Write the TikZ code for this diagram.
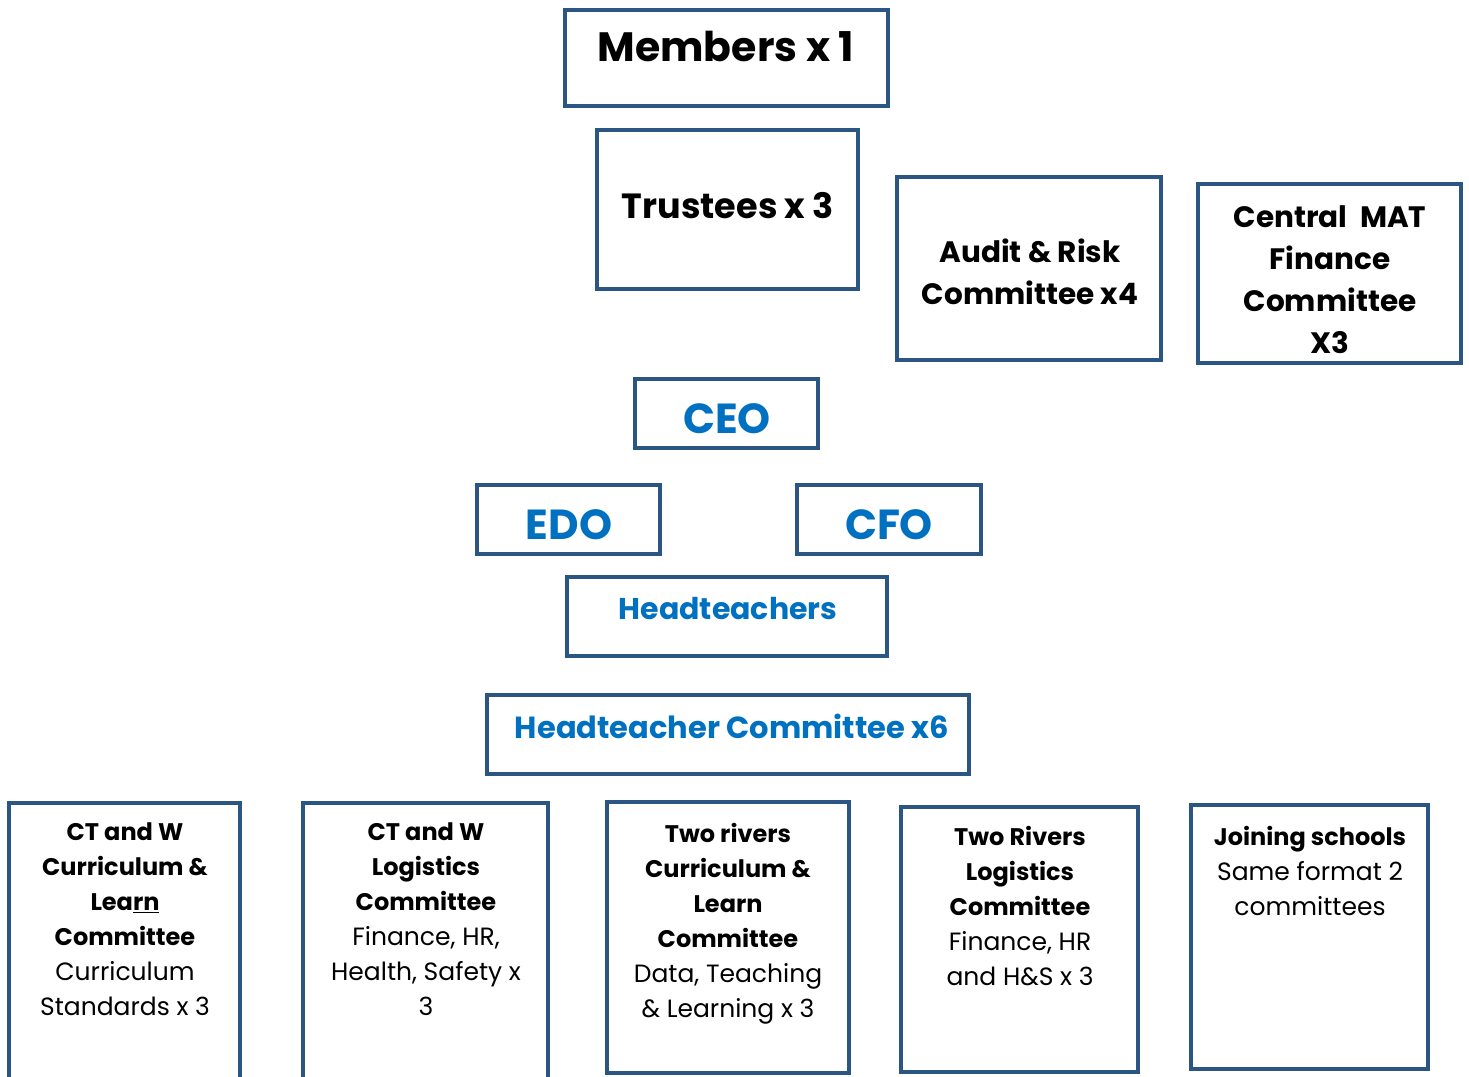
\documentclass[tikz,border=0pt]{standalone}
\usepackage{fontspec}
\setmainfont{Poppins}
\definecolor{frame}{HTML}{2B5583}
\definecolor{tblue}{HTML}{0070C0}
\begin{document}
\begin{tikzpicture}[x=1pt,y=-1pt,
  box/.style={draw=frame,line width=3.6pt,inner sep=0pt},
  txt/.style={anchor=north,align=center,inner sep=0pt},
  big/.style={font=\fontsize{42}{50}\selectfont\bfseries},
  mid/.style={font=\fontsize{29.5}{42}\selectfont\bfseries},
  small/.style={font=\fontsize{24}{35}\selectfont},
  reg/.style={font=\fontsize{25}{35}\selectfont},
  blue/.style={text=tblue}]
\useasboundingbox (0,0) rectangle (1469,1076);
\clip (0,0) rectangle (1469,1076);
\fill[white] (0,0) rectangle (1469,1076);
% boxes (line centres)
\node[box,minimum width=323,minimum height=96] (members) at (726.5,58) {};
\node[box,minimum width=261,minimum height=159] (trustees) at (727.5,209.5) {};
\node[box,minimum width=264,minimum height=183] (audit) at (1029,268.5) {};
\node[box,minimum width=263,minimum height=179] (central) at (1329.5,273.5) {};
\node[box,minimum width=183,minimum height=69] (ceo) at (726.5,413.5) {};
\node[box,minimum width=183,minimum height=69] (edo) at (568.5,519.5) {};
\node[box,minimum width=184,minimum height=69] (cfo) at (889,519.5) {};
\node[box,minimum width=320,minimum height=79] (heads) at (727,616.5) {};
\node[box,minimum width=482,minimum height=79] (hcomm) at (728,734.5) {};
\node[box,minimum width=231,minimum height=300] (b1) at (124.5,953) {};
\node[box,minimum width=245,minimum height=300] (b2) at (425.5,953) {};
\node[box,minimum width=242,minimum height=271] (b3) at (728,937.5) {};
\node[box,minimum width=237,minimum height=265] (b4) at (1019.5,939.5) {};
\node[box,minimum width=237,minimum height=264] (b5) at (1309.5,937) {};
% texts
\node[txt,font=\fontsize{41}{48}\selectfont\bfseries] (tmembers) at (726,31) {Members x 1};
\node[txt,font=\fontsize{35}{42}\selectfont\bfseries] (ttrustees) at (728,192) {Trustees x 3};
\node[txt,mid] (taudit) at (1030,239) {Audit \& Risk\\Committee x4};
\node[txt,mid] (tcentral) at (1330,205) {Central\ \ MAT\\Finance\\Committee\\X3};
\node[txt,big,blue] (tceo) at (727,403) {CEO};
\node[txt,big,blue] (tedo) at (569,509) {EDO};
\node[txt,big,blue] (tcfo) at (889,509) {CFO};
\node[txt,font=\fontsize{30}{42}\selectfont\bfseries,blue] (theads) at (728,597) {Headteachers};
\node[txt,font=\fontsize{30.5}{42}\selectfont\bfseries,blue] (thcomm) at (732,714) {Headteacher Committee x6};
\node[txt,small] (tb1) at (125,823) {\textbf{CT and W}\\\textbf{Curriculum \&}\\\textbf{Lea\underline{rn}}\\\textbf{Committee}\\{\fontsize{25}{35}\selectfont Curriculum}\\{\fontsize{25}{35}\selectfont Standards x 3}};
\node[txt,small] (tb2) at (426,823) {\textbf{CT and W}\\\textbf{Logistics}\\\textbf{Committee}\\{\fontsize{25}{35}\selectfont Finance, HR,}\\{\fontsize{25}{35}\selectfont Health, Safety x}\\{\fontsize{25}{35}\selectfont 3}};
\node[txt,small] (tb3) at (728,823) {\textbf{Two rivers}\\\textbf{Curriculum \&}\\\textbf{Learn}\\\textbf{Committee}\\{\fontsize{25}{35}\selectfont Data, Teaching}\\{\fontsize{25}{35}\selectfont \& Learning x 3}};
\node[txt,small] (tb4) at (1020,826) {\textbf{Two Rivers}\\\textbf{Logistics}\\\textbf{Committee}\\{\fontsize{25}{35}\selectfont Finance, HR}\\{\fontsize{25}{35}\selectfont and H\&S x 3}};
\node[txt,small] (tb5) at (1310,826) {\textbf{Joining schools}\\{\fontsize{25}{35}\selectfont Same format 2}\\{\fontsize{25}{35}\selectfont committees}};
\end{tikzpicture}
\end{document}
